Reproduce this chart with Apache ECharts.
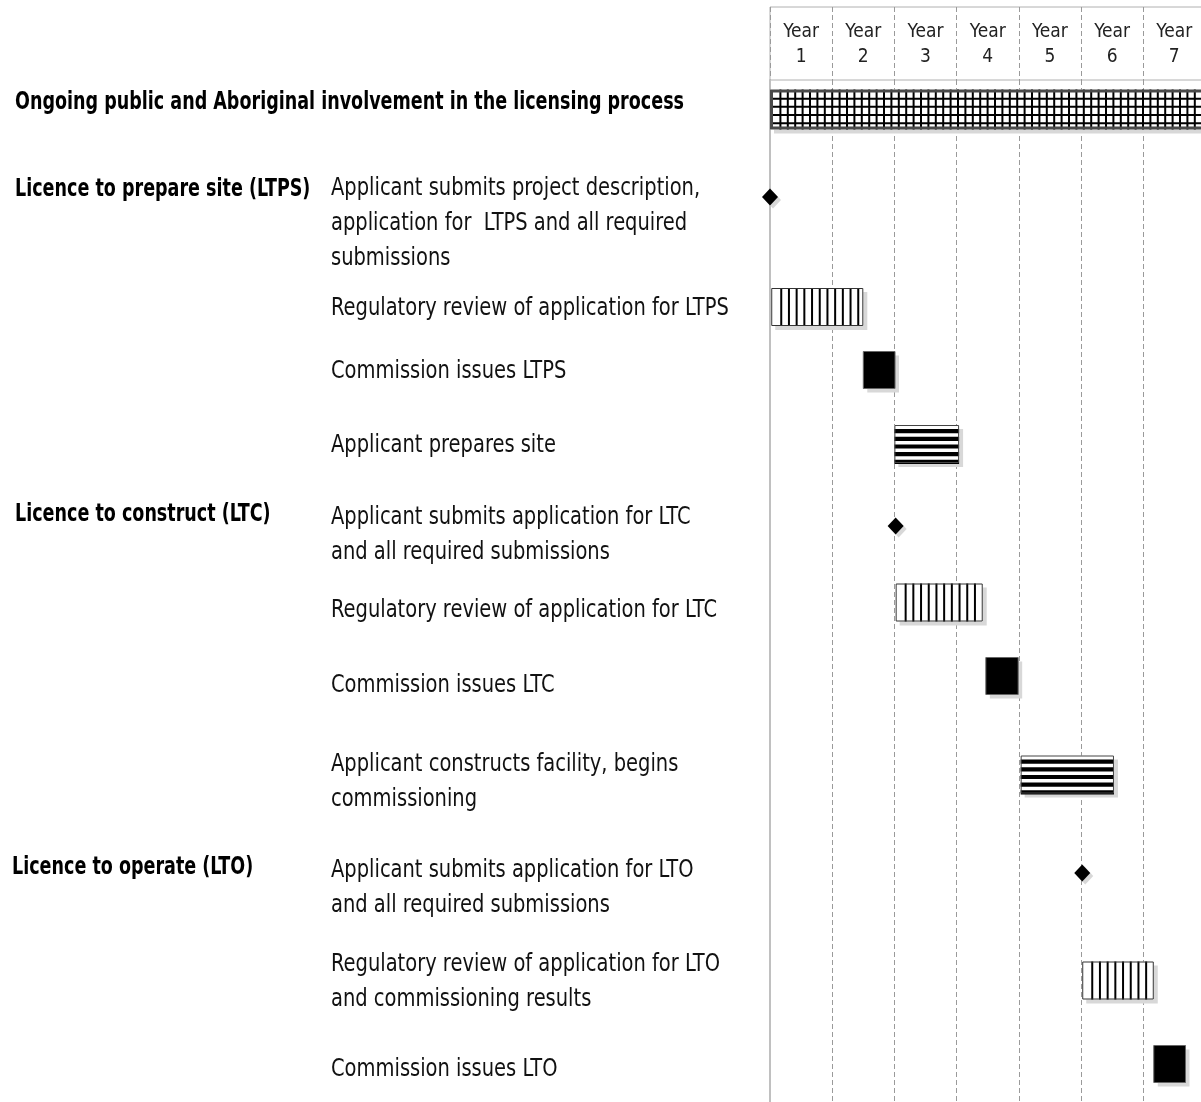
<!DOCTYPE html>
<html>
<head>
<meta charset="utf-8">
<script src="https://cdn.jsdelivr.net/npm/echarts@6/dist/echarts.min.js"></script>
<style>
html,body{margin:0;padding:0;background:#fff;}
#chart{width:1201px;height:1102px;}
</style>
</head>
<body>
<div id="chart"></div>
<script>
// ---------- DATA ----------
const yearLabels = ['Year\n1', 'Year\n2', 'Year\n3', 'Year\n4', 'Year\n5', 'Year\n6', 'Year\n7'];

const groupNames = [
  'Ongoing public and Aboriginal involvement in the licensing process',
  'Licence to prepare site (LTPS)',
  'Licence to construct (LTC)',
  'Licence to operate (LTO)'
];

const taskNames = [
  'Applicant submits project description,\napplication for  LTPS and all required\nsubmissions',
  'Regulatory review of application for LTPS',
  'Commission issues LTPS',
  'Applicant prepares site',
  'Applicant submits application for LTC\nand all required submissions',
  'Regulatory review of application for LTC',
  'Commission issues LTC',
  'Applicant constructs facility, begins\ncommissioning',
  'Applicant submits application for LTO\nand all required submissions',
  'Regulatory review of application for LTO\nand commissioning results',
  'Commission issues LTO'
];

// timeline marks (years from start); first entry is the ongoing involvement bar
const barKind  = ['ongoing', 'milestone', 'review', 'decision', 'activity', 'milestone', 'review', 'decision', 'activity', 'milestone', 'review', 'decision'];
const barStart = [0, 0,    0.02, 1.5,  2.0,  2.02, 2.02, 3.47, 4.03, 5.02, 5.02, 6.17];
const barEnd   = [7, 0,    1.5,  2.01, 3.04, 2.02, 3.42, 3.99, 5.53, 5.02, 6.17, 6.68];
const barRow   = [29.5, 117, 227, 290, 364, 446, 522.5, 596, 694.5, 793, 900.5, 984];

// ---------- LAYOUT / STYLE ----------
const FONT = '"Liberation Sans Narrow", "Arial Narrow", "DejaVu Sans Condensed", sans-serif';
const GRID_LEFT = 770, GRID_W = 7 * 62.2;
const BODY_TOP = 80, BODY_RANGE = 1022;
const kindHeight = { ongoing: 40, milestone: 17, review: 38, decision: 37, activity: 38 };
const groupLabelPos = [[15, 102], [15, 189], [15, 514], [12, 867]];
const taskLabelX = 331;
const taskLabelY = [223, 308, 371, 445, 535, 610, 685, 782, 888, 982, 1069];
const TEXT_SIZE = 25, LINE_H = 35;
const TASK_SCALE = 0.866, GROUP_SCALE = 0.78;

const chart = echarts.init(document.getElementById('chart'));

const kindIndex = ['ongoing', 'milestone', 'review', 'decision', 'activity'];
const seriesData = barKind.map((k, i) => [barStart[i], barEnd[i], barRow[i], kindIndex.indexOf(k)]);

function renderItem(params, api) {
  const kind = kindIndex[api.value(3)];
  const pS = api.coord([api.value(0), api.value(2)]);
  const pE = api.coord([api.value(1), api.value(2)]);
  const h = api.size([0, kindHeight[kind]])[1];
  const cy = pS[1];
  const x0 = pS[0], x1 = pE[0], y0 = cy - h / 2, y1 = cy + h / 2, w = x1 - x0;
  const children = [];
  const shadow = '#d8d8d8';
  if (kind === 'milestone') {
    const rx = 8, ry = 8.5;
    children.push({ type: 'polygon', shape: { points: [[x0 + 3, cy - ry + 3], [x0 + rx + 3, cy + 3], [x0 + 3, cy + ry + 3], [x0 - rx + 3, cy + 3]] }, style: { fill: shadow } });
    children.push({ type: 'polygon', shape: { points: [[x0, cy - ry], [x0 + rx, cy], [x0, cy + ry], [x0 - rx, cy]] }, style: { fill: '#000' } });
    return { type: 'group', children };
  }
  children.push({ type: 'rect', shape: { x: x0 + 4, y: y0 + 4, width: w, height: h }, style: { fill: shadow } });
  if (kind === 'ongoing') {
    children.push({ type: 'rect', shape: { x: x0, y: y0, width: w, height: h }, style: { fill: '#fff' } });
    for (let x = x0 + 3 + 7.4; x < x1 - 2; x += 7.4) {
      children.push({ type: 'line', shape: { x1: x, y1: y0, x2: x, y2: y1 }, style: { stroke: '#000', lineWidth: 2 } });
    }
    for (let i = 0; i < 4; i++) {
      const y = y0 + 3 + (i + 0.75) * 8.2;
      children.push({ type: 'line', shape: { x1: x0, y1: y, x2: x1, y2: y }, style: { stroke: '#000', lineWidth: 2 } });
    }
    children.push({ type: 'rect', shape: { x: x0 + 1.5, y: y0 + 1.5, width: w - 3, height: h - 3 }, style: { fill: null, stroke: '#4a4a4a', lineWidth: 3 } });
  } else if (kind === 'review') {
    children.push({ type: 'rect', shape: { x: x0, y: y0, width: w, height: h }, style: { fill: '#fff' } });
    for (let x = x0 + 10; x < x1 - 2; x += 7.7) {
      children.push({ type: 'line', shape: { x1: x, y1: y0, x2: x, y2: y1 }, style: { stroke: '#000', lineWidth: 2 } });
    }
    children.push({ type: 'rect', shape: { x: x0 + 0.5, y: y0 + 0.5, width: w - 1, height: h - 1 }, style: { fill: null, stroke: '#333', lineWidth: 1 } });
  } else if (kind === 'activity') {
    children.push({ type: 'rect', shape: { x: x0, y: y0, width: w, height: h }, style: { fill: '#fff' } });
    for (let k = 0; k < 5; k++) {
      const y = y0 + 4 + k * 7.7;
      children.push({ type: 'rect', shape: { x: x0, y: y, width: w, height: 4.2 }, style: { fill: '#000' } });
    }
    children.push({ type: 'rect', shape: { x: x0 + 0.5, y: y0 + 0.5, width: w - 1, height: h - 1 }, style: { fill: null, stroke: '#444', lineWidth: 1 } });
  } else if (kind === 'decision') {
    children.push({ type: 'rect', shape: { x: x0, y: y0, width: w, height: h }, style: { fill: '#000', stroke: '#666', lineWidth: 1 } });
  }
  return { type: 'group', children };
}

const graphics = [];
groupNames.forEach((t, i) => {
  graphics.push({
    type: 'text', x: groupLabelPos[i][0], y: groupLabelPos[i][1], scaleX: GROUP_SCALE,
    style: { x: 0, y: 0, text: t, font: 'bold ' + TEXT_SIZE + 'px ' + FONT, fill: '#000', verticalAlign: 'middle', align: 'left' }
  });
});
taskNames.forEach((t, i) => {
  graphics.push({
    type: 'text', x: taskLabelX, y: taskLabelY[i], scaleX: TASK_SCALE,
    style: { x: 0, y: 0, text: t, font: TEXT_SIZE + 'px ' + FONT, fill: '#111', lineHeight: LINE_H, verticalAlign: 'middle', align: 'left' }
  });
});

const option = {
  animation: false,
  backgroundColor: '#fff',
  grid: [
    { left: GRID_LEFT, width: GRID_W, top: 7, height: 73, show: true, borderColor: '#b0b0b0', borderWidth: 1, backgroundColor: 'transparent', outerBoundsMode: 'none', containLabel: false },
    { left: GRID_LEFT, width: GRID_W, top: BODY_TOP, bottom: 0, outerBoundsMode: 'none', containLabel: false }
  ],
  xAxis: [
    {
      gridIndex: 0, type: 'category', data: yearLabels, position: 'top', boundaryGap: true,
      axisLine: { show: false }, axisTick: { show: false },
      axisLabel: { inside: true, margin: 13, fontFamily: FONT, fontSize: 19, color: '#222', lineHeight: 25, interval: 0 },
      splitLine: { show: true, interval: 0, lineStyle: { color: '#9a9a9a', type: [5, 3], width: 1 } }
    },
    {
      gridIndex: 1, type: 'value', min: 0, max: 7, interval: 1,
      axisLine: { show: false }, axisTick: { show: false }, axisLabel: { show: false },
      splitLine: { show: true, lineStyle: { color: '#9a9a9a', type: [5, 3], width: 1 } }
    }
  ],
  yAxis: [
    { gridIndex: 0, type: 'value', show: false },
    {
      gridIndex: 1, type: 'value', min: 0, max: BODY_RANGE, inverse: true,
      axisLine: { show: true, lineStyle: { color: '#c0c0c0', width: 2 } },
      axisTick: { show: false }, axisLabel: { show: false }, splitLine: { show: false }
    }
  ],
  series: [{
    type: 'custom', xAxisIndex: 1, yAxisIndex: 1, renderItem, data: seriesData, clip: false, silent: true
  }],
  graphic: graphics
};
chart.setOption(option);
</script>
</body>
</html>
